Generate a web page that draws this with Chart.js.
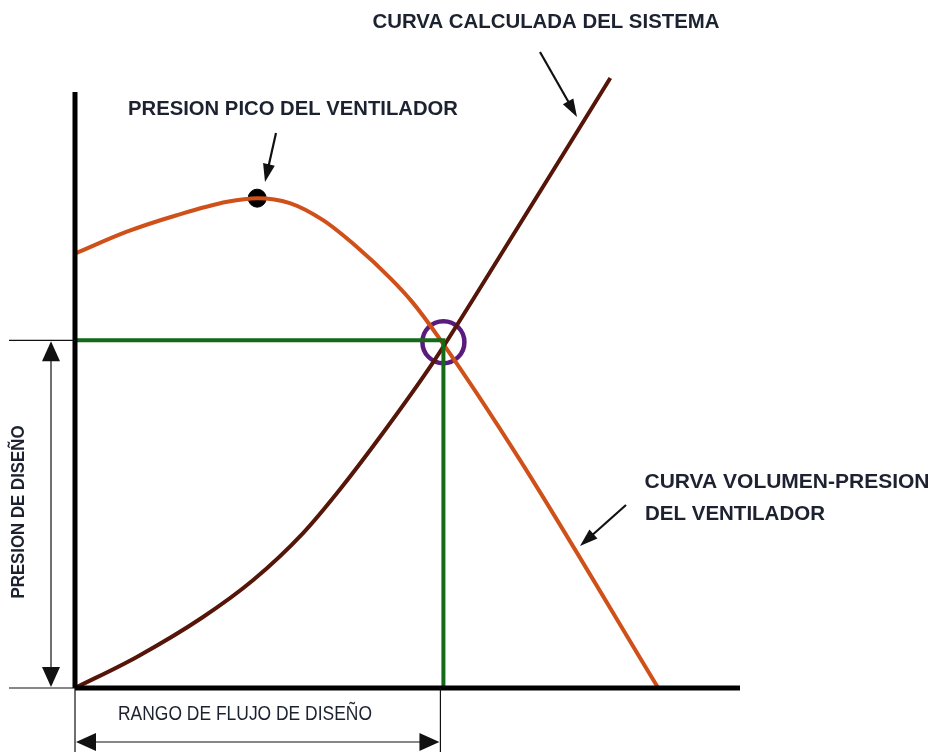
<!DOCTYPE html>
<html>
<head>
<meta charset="utf-8">
<script src="https://cdn.jsdelivr.net/npm/chart.js@4.4.1/dist/chart.umd.min.js"></script>
<style>
  html, body { margin: 0; padding: 0; background: #fff; }
  #wrap { width: 936px; height: 752px; position: relative; }
</style>
</head>
<body>
<div id="wrap"><canvas id="c"></canvas></div>
<script>
// Curva volumen-presión del ventilador (caudal %, presión %)
const fanX = [0, 7.8, 15.3, 22.9, 27.4, 32.3, 37.3, 42.4, 47.4, 50.7, 55.0, 66.9, 87.7];
const fanY = [71.2, 74.8, 77.5, 79.7, 80.3, 79.5, 76.7, 72.3, 67.2, 63.3, 57.0, 37.4, 0];

// Curva calculada del sistema
const sysX = [0, 9.3, 19.2, 26.8, 34.3, 39.8, 46.3, 53.8, 59.8, 80.5];
const sysY = [0, 5.1, 11.6, 17.7, 25.4, 32.5, 41.8, 53.3, 63.6, 100];

// Punto de diseño y presión pico
const designPoint = [55.4, 57.0];
const peakPoint = [27.4, 80.3];

// Ejes del diagrama
const axisXEnd = 100;
const axisYEnd = 97.7;

const pts = (xs, ys) => xs.map((x, i) => ({ x, y: ys[i] }));

const FAN = '#d0501a';
const SYS = '#561509';
const GREEN = '#136a17';
const PURPLE = '#5a1c7c';
const TXT = '#1c2230';

// texto comprimido para imitar la tipografía estrecha
function fitText(ctx, text, cx, cy, width, size, weight, rot) {
  ctx.save();
  ctx.font = `${weight} ${size}px "Liberation Sans Narrow", "Liberation Sans", Arial, sans-serif`;
  const w = ctx.measureText(text).width;
  ctx.translate(cx, cy);
  if (rot) ctx.rotate(rot);
  ctx.scale(width / w, 1);
  ctx.fillStyle = TXT;
  ctx.textAlign = 'center';
  ctx.textBaseline = 'middle';
  ctx.fillText(text, 0, 0);
  ctx.restore();
}

function arrowHead(ctx, x, y, ang, len, wid) {
  ctx.save();
  ctx.translate(x, y);
  ctx.rotate(ang);
  ctx.beginPath();
  ctx.moveTo(0, 0);
  ctx.lineTo(-len, -wid / 2);
  ctx.lineTo(-len, wid / 2);
  ctx.closePath();
  ctx.fill();
  ctx.restore();
}

function arrow(ctx, x1, y1, x2, y2) {
  const ang = Math.atan2(y2 - y1, x2 - x1);
  ctx.beginPath();
  ctx.moveTo(x1, y1);
  ctx.lineTo(x2 - 12 * Math.cos(ang), y2 - 12 * Math.sin(ang));
  ctx.stroke();
  arrowHead(ctx, x2, y2, ang, 18, 12);
}

const annotations = {
  id: 'annotations',
  afterDatasetsDraw(chart) {
    const { ctx, scales: { x, y } } = chart;
    const x0 = x.getPixelForValue(0), y0 = y.getPixelForValue(0);
    const xd = x.getPixelForValue(designPoint[0]), yd = y.getPixelForValue(designPoint[1]);
    ctx.save();
    ctx.strokeStyle = '#111';
    ctx.fillStyle = '#111';
    ctx.lineWidth = 2.2;
    arrow(ctx, 276, 133, 265, 182);
    arrow(ctx, 540, 52, 577, 117);
    arrow(ctx, 626, 505, 580, 546);

    // cotas
    ctx.lineWidth = 1.2;
    ctx.beginPath();
    ctx.moveTo(9, yd); ctx.lineTo(x0, yd);
    ctx.moveTo(9, y0); ctx.lineTo(x0, y0);
    ctx.moveTo(51, yd + 18); ctx.lineTo(51, y0 - 18);
    ctx.moveTo(x0, y0); ctx.lineTo(x0, 752);
    ctx.moveTo(xd - 3, y0); ctx.lineTo(xd - 3, 752);
    ctx.moveTo(x0 + 18, 742); ctx.lineTo(xd - 21, 742);
    ctx.stroke();
    arrowHead(ctx, 51, yd + 1, -Math.PI / 2, 20, 18);
    arrowHead(ctx, 51, y0 - 1, Math.PI / 2, 20, 18);
    arrowHead(ctx, x0 + 1, 742, Math.PI, 20, 18);
    arrowHead(ctx, xd - 4, 742, 0, 20, 18);
    ctx.restore();

    fitText(ctx, 'CURVA CALCULADA DEL SISTEMA', 546, 22, 347, 21, 'bold');
    fitText(ctx, 'PRESION PICO DEL VENTILADOR', 293, 109, 330, 21, 'bold');
    fitText(ctx, 'CURVA VOLUMEN-PRESION', 787, 482, 285, 21, 'bold');
    fitText(ctx, 'DEL VENTILADOR', 735, 514, 180, 21, 'bold');
    fitText(ctx, 'RANGO DE FLUJO DE DISEÑO', 245, 714, 254, 20, 'normal');
    fitText(ctx, 'PRESION DE DISEÑO', 19, 512, 173, 19, 'bold', -Math.PI / 2);
  }
};

new Chart(document.getElementById('c'), {
  type: 'scatter',
  data: {
    datasets: [
      { data: pts([0, axisXEnd], [0, 0]), showLine: true, borderColor: '#000', borderWidth: 5, pointRadius: 0, clip: false },
      { data: pts([0, 0], [0, axisYEnd]), showLine: true, borderColor: '#000', borderWidth: 5, pointRadius: 0, clip: false },
      { data: pts([0, designPoint[0], designPoint[0]], [designPoint[1], designPoint[1], 0]), showLine: true,
        borderColor: GREEN, borderWidth: 4, pointRadius: 0, clip: false },
      { data: pts(sysX, sysY), showLine: true, borderColor: SYS, borderWidth: 4, pointRadius: 0,
        cubicInterpolationMode: 'monotone', clip: false },
      { data: pts(fanX, fanY), showLine: true, borderColor: FAN, borderWidth: 4, pointRadius: 0,
        cubicInterpolationMode: 'monotone', clip: false },
      { data: [{ x: peakPoint[0], y: peakPoint[1] }], pointRadius: 9, pointBackgroundColor: '#000',
        pointBorderColor: '#000', clip: false },
      { data: [{ x: designPoint[0], y: designPoint[1] - 0.3 }], pointRadius: 21, pointBackgroundColor: 'rgba(0,0,0,0)',
        pointBorderColor: PURPLE, pointBorderWidth: 4.5, clip: false }
    ]
  },
  options: {
    responsive: true, maintainAspectRatio: false, animation: false,
    layout: { padding: { left: 75, right: 196, top: 78, bottom: 64 } },
    plugins: { legend: { display: false }, tooltip: { enabled: false } },
    scales: {
      x: { type: 'linear', min: 0, max: 100, display: false },
      y: { type: 'linear', min: 0, max: 100, display: false }
    }
  },
  plugins: [annotations]
});
</script>
</body>
</html>
